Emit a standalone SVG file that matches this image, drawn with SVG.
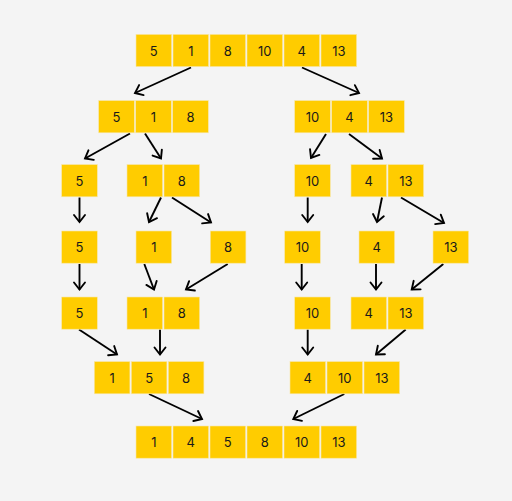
<svg xmlns="http://www.w3.org/2000/svg" width="512" height="501" viewBox="0 0 512 501">
<style>
.c{fill:#ffcc00;stroke:#f7e7a8;stroke-width:0.6}
.t{font-family:Inter,"Liberation Sans",sans-serif;font-size:13px;fill:#1a1a1a;text-anchor:middle;dominant-baseline:central}
.e{stroke:#000;stroke-width:1.9;fill:none;marker-end:url(#ah)}
</style>
<defs>
<marker id="ah" markerUnits="userSpaceOnUse" viewBox="-10 -8 12 16" refX="0" refY="0" markerWidth="12" markerHeight="16" orient="auto">
<path d="M-7,-5.5 L0,0 L-7,5.5" fill="none" stroke="#000" stroke-width="1.9" stroke-linecap="round" stroke-linejoin="miter"/>
</marker>
<g id="cell"><rect class="c" x="0" y="0" width="35.6" height="32.2"/></g>
</defs>
<rect width="512" height="501" fill="#f4f4f4"/>

<g id="connectors">
<line class="e" x1="191" y1="67.5" x2="135" y2="93"/>
<line class="e" x1="302" y1="67.5" x2="359" y2="93"/>
<line class="e" x1="130" y1="133.5" x2="85" y2="158.5"/>
<line class="e" x1="145" y1="133.5" x2="161" y2="158.5"/>
<line class="e" x1="326" y1="134" x2="311" y2="158"/>
<line class="e" x1="349" y1="134" x2="382" y2="158.5"/>
<line class="e" x1="79.5" y1="197.5" x2="79.5" y2="222"/>
<line class="e" x1="161" y1="197.5" x2="149" y2="222"/>
<line class="e" x1="172" y1="197.5" x2="211" y2="222.5"/>
<line class="e" x1="307.7" y1="197.5" x2="307.7" y2="222"/>
<line class="e" x1="382" y1="197.5" x2="377" y2="222"/>
<line class="e" x1="401" y1="197.5" x2="444" y2="223"/>
<line class="e" x1="79.5" y1="264" x2="79.5" y2="289.5"/>
<line class="e" x1="144.3" y1="264" x2="154" y2="289.5"/>
<line class="e" x1="227.7" y1="264" x2="186" y2="289.5"/>
<line class="e" x1="301.7" y1="264" x2="301.7" y2="289.5"/>
<line class="e" x1="376" y1="264" x2="376" y2="289.5"/>
<line class="e" x1="443.3" y1="264" x2="411.7" y2="289.5"/>
<line class="e" x1="79" y1="329.5" x2="117" y2="354.5"/>
<line class="e" x1="160" y1="329.5" x2="160" y2="354.5"/>
<line class="e" x1="307.7" y1="329.5" x2="307.7" y2="354.5"/>
<line class="e" x1="405.7" y1="329.5" x2="376" y2="354.5"/>
<line class="e" x1="149" y1="394" x2="202" y2="419"/>
<line class="e" x1="344.3" y1="394" x2="293.3" y2="419"/>
</g>

<g id="n-row1">
<use href="#cell" x="136" y="34.4"/><text class="t" x="153.8" y="50.5">5</text>
<use href="#cell" x="173" y="34.4"/><text class="t" x="190.8" y="50.5">1</text>
<use href="#cell" x="210" y="34.4"/><text class="t" x="227.8" y="50.5">8</text>
<use href="#cell" x="247" y="34.4"/><text class="t" x="264.8" y="50.5">10</text>
<use href="#cell" x="284" y="34.4"/><text class="t" x="301.8" y="50.5">4</text>
<use href="#cell" x="321" y="34.4"/><text class="t" x="338.8" y="50.5">13</text>
</g>

<g id="n-row2-left">
<use href="#cell" x="98.7" y="100.6"/><text class="t" x="116.5" y="116.7">5</text>
<use href="#cell" x="135.7" y="100.6"/><text class="t" x="153.5" y="116.7">1</text>
<use href="#cell" x="172.7" y="100.6"/><text class="t" x="190.5" y="116.7">8</text>
</g>
<g id="n-row2-right">
<use href="#cell" x="294.7" y="100.6"/><text class="t" x="312.5" y="116.7">10</text>
<use href="#cell" x="331.7" y="100.6"/><text class="t" x="349.5" y="116.7">4</text>
<use href="#cell" x="368.7" y="100.6"/><text class="t" x="386.5" y="116.7">13</text>
</g>

<g id="n-row3-a"><use href="#cell" x="61.7" y="164.6"/><text class="t" x="79.5" y="180.7">5</text></g>
<g id="n-row3-b">
<use href="#cell" x="127" y="164.6"/><text class="t" x="144.8" y="180.7">1</text>
<use href="#cell" x="164" y="164.6"/><text class="t" x="181.8" y="180.7">8</text>
</g>
<g id="n-row3-c"><use href="#cell" x="294.7" y="164.6"/><text class="t" x="312.5" y="180.7">10</text></g>
<g id="n-row3-d">
<use href="#cell" x="351" y="164.6"/><text class="t" x="368.8" y="180.7">4</text>
<use href="#cell" x="388" y="164.6"/><text class="t" x="405.8" y="180.7">13</text>
</g>

<g id="n-row4-a"><use href="#cell" x="61.7" y="231"/><text class="t" x="79.5" y="247.1">5</text></g>
<g id="n-row4-b"><use href="#cell" x="136" y="231"/><text class="t" x="153.8" y="247.1">1</text></g>
<g id="n-row4-c"><use href="#cell" x="210.3" y="231"/><text class="t" x="228.1" y="247.1">8</text></g>
<g id="n-row4-d"><use href="#cell" x="284.7" y="231"/><text class="t" x="302.5" y="247.1">10</text></g>
<g id="n-row4-e"><use href="#cell" x="359" y="231"/><text class="t" x="376.8" y="247.1">4</text></g>
<g id="n-row4-f"><use href="#cell" x="433" y="231"/><text class="t" x="450.8" y="247.1">13</text></g>

<g id="n-row5-a"><use href="#cell" x="61.7" y="297"/><text class="t" x="79.5" y="313.1">5</text></g>
<g id="n-row5-b">
<use href="#cell" x="127" y="297"/><text class="t" x="144.8" y="313.1">1</text>
<use href="#cell" x="164" y="297"/><text class="t" x="181.8" y="313.1">8</text>
</g>
<g id="n-row5-c"><use href="#cell" x="294.7" y="297"/><text class="t" x="312.5" y="313.1">10</text></g>
<g id="n-row5-d">
<use href="#cell" x="351" y="297"/><text class="t" x="368.8" y="313.1">4</text>
<use href="#cell" x="388" y="297"/><text class="t" x="405.8" y="313.1">13</text>
</g>

<g id="n-row6-left">
<use href="#cell" x="94.3" y="361.6"/><text class="t" x="112.1" y="377.7">1</text>
<use href="#cell" x="131.3" y="361.6"/><text class="t" x="149.1" y="377.7">5</text>
<use href="#cell" x="168.3" y="361.6"/><text class="t" x="186.1" y="377.7">8</text>
</g>
<g id="n-row6-right">
<use href="#cell" x="290" y="361.6"/><text class="t" x="307.8" y="377.7">4</text>
<use href="#cell" x="327" y="361.6"/><text class="t" x="344.8" y="377.7">10</text>
<use href="#cell" x="364" y="361.6"/><text class="t" x="381.8" y="377.7">13</text>
</g>

<g id="n-row7">
<use href="#cell" x="136" y="426"/><text class="t" x="153.8" y="442.1">1</text>
<use href="#cell" x="173" y="426"/><text class="t" x="190.8" y="442.1">4</text>
<use href="#cell" x="210" y="426"/><text class="t" x="227.8" y="442.1">5</text>
<use href="#cell" x="247" y="426"/><text class="t" x="264.8" y="442.1">8</text>
<use href="#cell" x="284" y="426"/><text class="t" x="301.8" y="442.1">10</text>
<use href="#cell" x="321" y="426"/><text class="t" x="338.8" y="442.1">13</text>
</g>
</svg>
